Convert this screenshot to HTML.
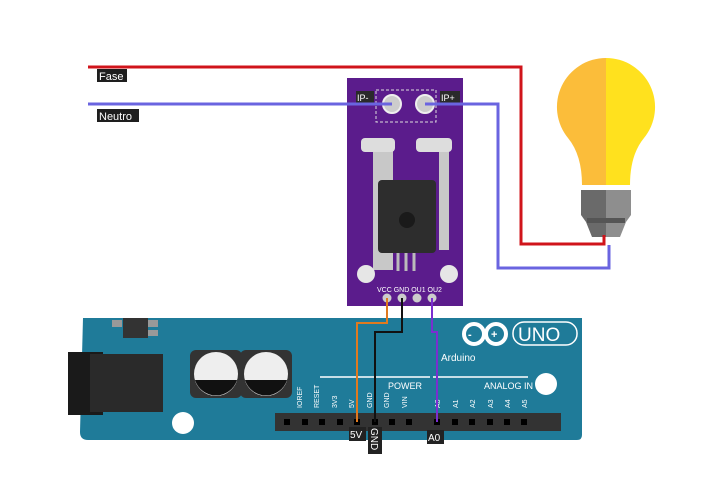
<!DOCTYPE html>
<html><head><style>body{margin:0;background:#fff}svg{display:block}text{font-family:"Liberation Sans",sans-serif}</style></head>
<body>
<svg width="726" height="480" viewBox="0 0 726 480" xmlns="http://www.w3.org/2000/svg">
<!-- bulb -->
<path d="M606 58 A49 49 0 0 0 568 138 Q582 155 582 185 L606 185 Z" fill="#FBBD3A"/>
<path d="M606 58 A49 49 0 0 1 644 138 Q630 155 630 185 L606 185 Z" fill="#FFE11E"/>
<path d="M581 190 L606 190 L606 237 L592 237 L586 222 L581 215 Z" fill="#6a6a6a"/>
<path d="M606 190 L631 190 L631 215 L626 222 L620 237 L606 237 Z" fill="#8e8e8e"/>
<rect x="587" y="218" width="38" height="5" fill="#555"/>
<!-- wires -->
<polyline points="88,67 521,67 521,244 604,244 604,235" fill="none" stroke="#d0141b" stroke-width="3"/>
<polyline points="88,104 392,104" fill="none" stroke="#6a64e0" stroke-width="3"/>
<!-- module -->
<rect x="347" y="78" width="116" height="228" fill="#5b1c8c"/>
<rect x="376" y="90" width="60" height="32" fill="none" stroke="#ddd" stroke-dasharray="3,2"/>
<rect x="356" y="91" width="18" height="12" fill="#2a2a2a"/><text x="357" y="101" font-size="9" fill="#fff">IP-</text>
<rect x="440" y="91" width="20" height="12" fill="#2a2a2a"/><text x="441" y="101" font-size="9" fill="#fff">IP+</text>
<circle cx="392" cy="104" r="9" fill="#ccc" stroke="#eee" stroke-width="2"/>
<circle cx="425" cy="104" r="9" fill="#ccc" stroke="#eee" stroke-width="2"/>
<polyline points="425,104 498,104 498,268 609,268 609,245" fill="none" stroke="#6a64e0" stroke-width="3"/>
<line x1="392" y1="104" x2="347" y2="104" stroke="#6a64e0" stroke-width="3"/>
<path d="M363 140 h30 v130 h-20 v-120 h-10z" fill="#c8c8c8"/>
<rect x="361" y="138" width="34" height="14" rx="4" fill="#ddd"/>
<path d="M419 140 h30 v110 h-10 v-100 h-20z" fill="#c8c8c8"/>
<rect x="416" y="138" width="36" height="14" rx="4" fill="#ddd"/>
<rect x="378" y="180" width="58" height="73" rx="4" fill="#2d2d2d"/>
<circle cx="407" cy="220" r="8" fill="#1a1a1a"/>
<path d="M398 253 v18 M406 253 v18 M414 253 v18" stroke="#bbb" stroke-width="3"/>
<circle cx="366" cy="274" r="9" fill="#e6e6e6"/><circle cx="449" cy="274" r="9" fill="#e6e6e6"/>
<text x="377" y="292" font-size="7" fill="#fff">VCC GND OU1 OU2</text>
<circle cx="387" cy="298" r="4.5" fill="#ccc"/><circle cx="402" cy="298" r="4.5" fill="#ccc"/><circle cx="417" cy="298" r="4.5" fill="#ccc"/><circle cx="432" cy="298" r="4.5" fill="#ccc"/>
<!-- labels -->
<rect x="97" y="69" width="30" height="13" fill="#1e1e1e"/><text x="99" y="80" font-size="11" fill="#fff">Fase</text>
<rect x="97" y="109" width="42" height="13" fill="#1e1e1e"/><text x="99" y="120" font-size="11" fill="#fff">Neutro</text>
<!-- arduino -->
<path d="M83 318 H582 V435 Q582 440 577 440 H88 Q80 440 80 432 Z" fill="#1f7b99"/>
<rect x="112" y="320" width="10" height="7" fill="#999"/><rect x="123" y="318" width="25" height="20" fill="#333"/><rect x="148" y="320" width="10" height="7" fill="#999"/><rect x="148" y="330" width="10" height="6" fill="#999"/>
<rect x="68" y="352" width="35" height="63" fill="#1a1a1a"/><rect x="90" y="354" width="73" height="58" fill="#2a2a2a"/>
<rect x="190" y="350" width="52" height="48" rx="6" fill="#333"/><circle cx="216" cy="374" r="22" fill="#eee"/><path d="M195 380 A22 22 0 0 0 237 380 Z" fill="#111"/>
<rect x="240" y="350" width="52" height="48" rx="6" fill="#333"/><circle cx="266" cy="374" r="22" fill="#eee"/><path d="M245 380 A22 22 0 0 0 287 380 Z" fill="#111"/>
<circle cx="183" cy="423" r="11" fill="#fff"/><circle cx="546" cy="384" r="11" fill="#fff"/>
<line x1="320" y1="377" x2="430" y2="377" stroke="#fff" stroke-width="1.5"/><line x1="433" y1="377" x2="528" y2="377" stroke="#fff" stroke-width="1.5"/>
<text x="388" y="389" font-size="9" fill="#fff" font-family="Liberation Mono">POWER</text>
<text x="484" y="389" font-size="9" fill="#fff" font-family="Liberation Mono">ANALOG IN</text>
<g font-size="7" fill="#fff" font-family="Liberation Mono">
<text transform="translate(302,408) rotate(-90)">IOREF</text><text transform="translate(319,408) rotate(-90)">RESET</text>
<text transform="translate(337,408) rotate(-90)">3V3</text><text transform="translate(354,408) rotate(-90)">5V</text>
<text transform="translate(372,408) rotate(-90)">GND</text><text transform="translate(389,408) rotate(-90)">GND</text>
<text transform="translate(407,408) rotate(-90)">VIN</text>
<text transform="translate(440,408) rotate(-90)">A0</text><text transform="translate(458,408) rotate(-90)">A1</text>
<text transform="translate(475,408) rotate(-90)">A2</text><text transform="translate(493,408) rotate(-90)">A3</text>
<text transform="translate(510,408) rotate(-90)">A4</text><text transform="translate(527,408) rotate(-90)">A5</text></g>
<rect x="275" y="413" width="156" height="18" fill="#333"/><rect x="427" y="413" width="134" height="18" fill="#333"/>
<g fill="#000"><rect x="284" y="419" width="6" height="6"/><rect x="302" y="419" width="6" height="6"/><rect x="319" y="419" width="6" height="6"/><rect x="337" y="419" width="6" height="6"/><rect x="354" y="419" width="6" height="6"/><rect x="372" y="419" width="6" height="6"/><rect x="389" y="419" width="6" height="6"/><rect x="406" y="419" width="6" height="6"/>
<rect x="434" y="419" width="6" height="6"/><rect x="452" y="419" width="6" height="6"/><rect x="469" y="419" width="6" height="6"/><rect x="487" y="419" width="6" height="6"/><rect x="504" y="419" width="6" height="6"/><rect x="521" y="419" width="6" height="6"/></g>
<circle cx="474" cy="334" r="10" fill="none" stroke="#fff" stroke-width="4"/><circle cx="496" cy="334" r="10" fill="none" stroke="#fff" stroke-width="4"/>
<text x="468" y="338" font-size="11" fill="#fff" font-weight="bold">-</text><text x="491" y="338" font-size="11" fill="#fff" font-weight="bold">+</text>
<rect x="513" y="322" width="64" height="23" rx="11" fill="none" stroke="#fff" stroke-width="1.5"/><text x="518" y="341" font-size="19" fill="#fff">UNO</text>
<text x="441" y="361" font-size="10" fill="#fff" font-family="Liberation Mono">Arduino</text>
<!-- sensor wires -->
<polyline points="387,298 387,323 357,323 357,422" fill="none" stroke="#e07a1f" stroke-width="2"/>
<polyline points="402,298 402,332 375,332 375,422" fill="none" stroke="#111" stroke-width="2"/>
<polyline points="432,298 432,332 437,332 437,422" fill="none" stroke="#7a2ed0" stroke-width="2"/>
<rect x="349" y="427" width="17" height="14" fill="#222"/><text x="350" y="438" font-size="10" fill="#fff">5V</text>
<rect x="368" y="427" width="14" height="27" fill="#222"/><text transform="translate(371,428) rotate(90)" font-size="10" fill="#fff">GND</text>
<rect x="427" y="430" width="17" height="14" fill="#222"/><text x="428" y="441" font-size="10" fill="#fff">A0</text>
</svg>
</body></html>
